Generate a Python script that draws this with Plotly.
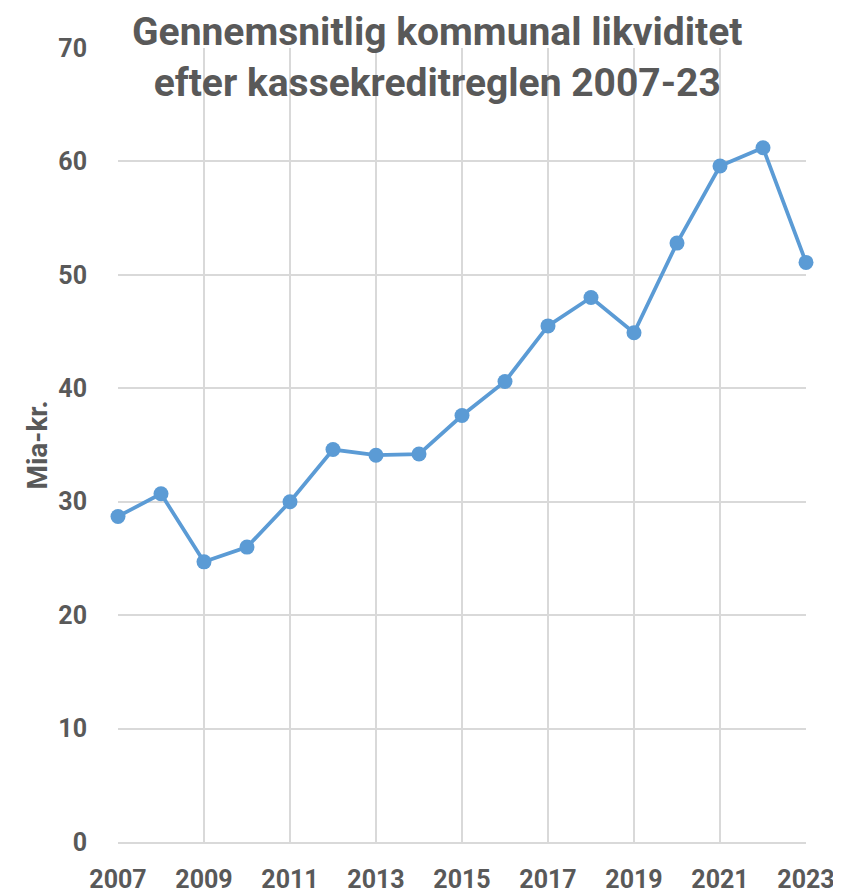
import plotly.graph_objects as go

years = list(range(2007, 2024))
liquidity = [28.7, 30.7, 24.7, 26.0, 30.0, 34.6, 34.1, 34.2, 37.6, 40.6,
             45.5, 48.0, 44.9, 52.8, 59.6, 61.2, 51.1]
x_ticks = list(range(2007, 2024, 2))
y_ticks = list(range(0, 71, 10))

TEXT = "#595959"
FONT = "Roboto, 'Open Sans', sans-serif"

fig = go.Figure()
fig.add_trace(go.Scatter(
    x=years,
    y=liquidity,
    mode="lines+markers",
    line=dict(color="#5B9BD5", width=3.75),
    marker=dict(color="#5B9BD5", size=15),
    cliponaxis=False,
    hovertemplate="%{x}: %{y:.1f} mia. kr.<extra></extra>",
))

fig.update_xaxes(
    range=[2007, 2023],
    tickvals=x_ticks,
    showgrid=True, gridcolor="#D9D9D9", gridwidth=2,
    showline=True, linecolor="#D9D9D9", linewidth=2,
    ticks="", ticklabelstandoff=14,
    tickfont=dict(family=FONT, size=25, color=TEXT, weight="bold"),
    zeroline=False, automargin=False,
)
fig.update_yaxes(
    range=[0, 70],
    tickvals=y_ticks,
    showgrid=True, gridcolor="#D9D9D9", gridwidth=2,
    ticks="", ticklabelstandoff=30,
    tickfont=dict(family=FONT, size=25, color=TEXT, weight="bold"),
    zeroline=False, automargin=False,
    title=dict(text="Mia-kr.", standoff=2,
               font=dict(family=FONT, size=28, color=TEXT, weight="bold")),
)

fig.add_annotation(
    text="Gennemsnitlig kommunal likviditet<br>efter kassekreditreglen 2007-23",
    xref="paper", yref="paper", x=0.465, y=1.05,
    xanchor="center", yanchor="top", showarrow=False,
    font=dict(family=FONT, size=39, color=TEXT, weight="bold"),
    align="center", borderpad=0,
)

# page body adds an 8px offset, margins compensate for it
fig.update_layout(
    width=841, height=894,
    margin=dict(l=110, r=43, t=40, b=60),
    plot_bgcolor="white", paper_bgcolor="white",
    showlegend=False,
)

fig.write_html("out.html")
